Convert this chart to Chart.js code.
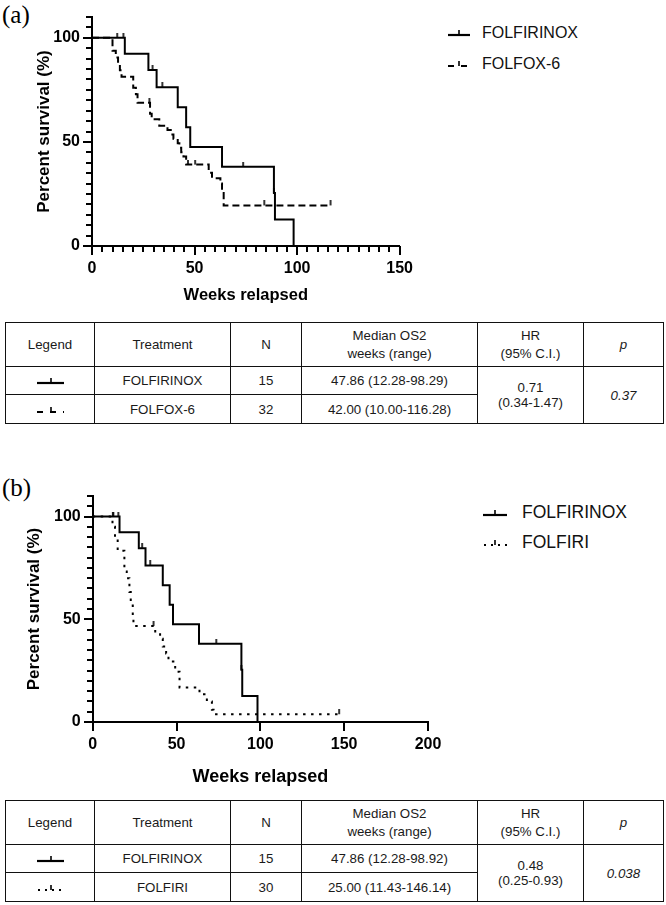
<!DOCTYPE html>
<html>
<head>
<meta charset="utf-8">
<script src="https://cdn.jsdelivr.net/npm/chart.js@4.4.1/dist/chart.umd.min.js"></script>
<style>
  body { margin: 0; width: 666px; height: 905px; position: relative; background: #fff; overflow: hidden;
         font-family: "Liberation Sans", Arial, sans-serif; }
  canvas { position: absolute; }
  .panel { position: absolute; font-family: "Liberation Serif", "Times New Roman", serif; font-size: 25px; line-height: 25px; color: #000; }
  .legend { position: absolute; color: #111; }
  .legend div { display: flex; align-items: center; }
  table { position: absolute; border-collapse: collapse; table-layout: fixed; font-size: 13.3px; color: #1a1a1a; text-align: center; }
  td { border: 1.5px solid #111; padding: 0; }
  td.hd { line-height: 18px; }
  td.mg { line-height: 15px; }
  td.it { font-style: italic; }
</style>
</head>
<body>
<div class="panel" style="left:2px;top:2px">(a)</div>
<div class="panel" style="left:2px;top:475px">(b)</div>

<canvas id="chartA" width="420" height="315" style="left:0;top:0"></canvas>
<canvas id="chartB" width="450" height="312" style="left:0;top:480px"></canvas>

<div class="legend" id="legendA" style="left:448px;top:17px;font-size:16px"></div>
<div class="legend" id="legendB" style="left:483px;top:497px;font-size:17.5px"></div>

<table id="tableA" style="left:5px;top:322px;width:658px"></table>
<table id="tableB" style="left:5px;top:800px;width:658px"></table>

<script>
// FOLFIRINOX (same arm in both panels)
const folfirinoxWeeks = [0, 16, 27.5, 31.5, 41.8, 45.9, 47.9, 63.4, 88.7, 89.2, 98.3];
const folfirinoxSurv = [100, 92.3, 84.6, 76.2, 66.6, 57.1, 47.6, 38.1, 25.4, 12.7, 0];
const folfirinoxCensWeeks = [12.3, 15.3, 29.5, 34.3, 73.7, 88.7];
const folfirinoxCensSurv = [100, 100, 84.6, 76.2, 38.1, 25.4];

// FOLFOX-6 (panel a)
const folfox6Weeks = [0, 10.0, 11.6, 12.7, 13.6, 14.4, 20.1, 21.4, 22.2, 28.3, 29.1, 32.8, 36.8, 38.4, 39.7,
  41.8, 42.6, 43.5, 44.6, 45.9, 56.9, 58.5, 62.6, 63.4, 64.2, 116.3];
const folfox6Surv = [100, 93.8, 90.6, 87.5, 84.4, 81.3, 76.0, 72.9, 68.8, 63.5, 60.9, 57.8, 55.7, 53.6, 51.5,
  49.4, 47.2, 45.0, 43.0, 39.1, 35.2, 32.6, 30.0, 25.4, 19.5, 19.5];
const folfox6CensWeeks = [28.0, 46.8, 50.3, 84.0, 116.3];
const folfox6CensSurv = [68.8, 39.1, 39.1, 19.5, 19.5];

// FOLFIRI (panel b)
const folfiriWeeks = [0, 11.8, 13.3, 14.9, 18.9, 20.3, 21.9, 22.7, 23.9, 24.3, 37.3, 40.2, 41.8, 43.8, 45.2,
  49.2, 51.8, 63.7, 68.1, 71.1, 72.1, 147];
const folfiriSurv = [100, 95.0, 90.0, 83.3, 73.3, 70.0, 63.3, 56.7, 50.0, 46.7, 43.3, 40.5, 36.7, 33.3, 29.5,
  24.5, 16.8, 13.5, 10.0, 6.0, 3.8, 3.8];
const folfiriCensWeeks = [12.0, 36.3, 147];
const folfiriCensSurv = [100, 46.7, 3.8];

// table texts
const headers = ["Legend", "Treatment", "N", "Median OS2<br>weeks (range)", "HR<br>(95% C.I.)", "p"];
const colWidths = [89, 136, 71, 176, 106, 80];
const tableARows = [["solid", "FOLFIRINOX", "15", "47.86 (12.28-98.29)"], ["dash", "FOLFOX-6", "32", "42.00 (10.00-116.28)"]];
const tableAStats = ["0.71", "(0.34-1.47)", "0.37"];
const tableBRows = [["solid", "FOLFIRINOX", "15", "47.86 (12.28-98.92)"], ["dot", "FOLFIRI", "30", "25.00 (11.43-146.14)"]];
const tableBStats = ["0.48", "(0.25-0.93)", "0.038"];

const sans = "'Liberation Sans', Arial, sans-serif";

// censor mark: short vertical tick sitting on the curve
function censorMark(h) {
  const c = document.createElement("canvas");
  c.width = 4;
  c.height = h * 2;
  const g = c.getContext("2d");
  g.strokeStyle = "#000";
  g.lineWidth = 1.6;
  g.beginPath();
  g.moveTo(2, 0);
  g.lineTo(2, h);
  g.stroke();
  return c;
}
const tickMark = censorMark(5);

// prism-like axis ticks: long at labelled values, short otherwise
const axisTicks = {
  id: "axisTicks",
  afterDraw(chart) {
    const ctx = chart.ctx;
    const area = chart.chartArea;
    const xs = chart.scales.x;
    const ys = chart.scales.y;
    ctx.save();
    ctx.fillStyle = "#000";
    xs.ticks.forEach((t) => {
      const px = Math.round(xs.getPixelForValue(t.value));
      const len = t.value % 50 === 0 ? 9 : 6;
      ctx.fillRect(px - 1, Math.round(area.bottom), 2, len);
    });
    ys.ticks.forEach((t) => {
      const py = Math.round(ys.getPixelForValue(t.value));
      const len = t.value % 50 === 0 ? 9 : 6;
      ctx.fillRect(Math.round(area.left) - len, py - 1, len, 2);
    });
    ctx.restore();
  },
};

const toXY = (xs, ys) => xs.map((x, i) => ({ x: x, y: ys[i] }));

function curve(weeks, surv, dash) {
  return {
    data: toXY(weeks, surv),
    stepped: "before",
    borderColor: "#000",
    borderWidth: 2,
    borderDash: dash,
    pointRadius: 0,
    fill: false,
  };
}
function censored(weeks, surv) {
  return {
    data: toXY(weeks, surv),
    showLine: false,
    pointStyle: tickMark,
    pointRadius: 3,
  };
}

function kmChart(id, cfg) {
  return new Chart(document.getElementById(id), {
    type: "line",
    data: { datasets: cfg.datasets },
    plugins: [axisTicks],
    options: {
      responsive: false,
      animation: false,
      devicePixelRatio: 1,
      layout: { padding: cfg.padding },
      plugins: { legend: { display: false }, tooltip: { enabled: false } },
      scales: {
        x: {
          type: "linear",
          min: 0,
          max: cfg.xMax,
          border: { display: true, color: "#000", width: 2 },
          // built-in ticks only keep the label spacing, the plugin draws the marks
          grid: { drawOnChartArea: false, tickLength: 6, tickColor: "rgba(0,0,0,0)" },
          ticks: {
            stepSize: cfg.xStep,
            autoSkip: false,
            maxRotation: 0,
            padding: 7,
            color: "#000",
            font: { family: sans, weight: "bold", size: 16 },
            callback: (v) => (v % 50 === 0 ? v : ""),
          },
          title: {
            display: true,
            text: "Weeks relapsed",
            color: "#000",
            padding: 0,
            font: { family: sans, weight: "bold", size: cfg.xTitleSize },
          },
          afterFit: (s) => { s.height = cfg.xHeight; },
        },
        y: {
          min: 0,
          max: 110,
          border: { display: true, color: "#000", width: 2 },
          grid: { drawOnChartArea: false, tickLength: 6, tickColor: "rgba(0,0,0,0)" },
          ticks: {
            stepSize: 5,
            autoSkip: false,
            padding: 6,
            color: "#000",
            font: { family: sans, weight: "bold", size: 16 },
            callback: (v) => (v % 50 === 0 ? v : ""),
          },
          title: {
            display: true,
            text: "Percent survival (%)",
            color: "#000",
            padding: 0,
            font: { family: sans, weight: "bold", size: 17 },
          },
          afterFit: (s) => { s.width = cfg.yWidth; },
        },
      },
    },
  });
}

// Panel (a)
kmChart("chartA", {
  xMax: 150, xStep: 5, xTitleSize: 16.5,
  padding: { left: 34, top: 17, right: 20, bottom: 10 },
  yWidth: 58, xHeight: 59,
  datasets: [
    curve(folfirinoxWeeks, folfirinoxSurv, []),
    censored(folfirinoxCensWeeks, folfirinoxCensSurv),
    curve(folfox6Weeks, folfox6Surv, [7, 4]),
    censored(folfox6CensWeeks, folfox6CensSurv),
  ],
});

// Panel (b)
kmChart("chartB", {
  xMax: 200, xStep: 50, xTitleSize: 18,
  padding: { left: 24, top: 16, right: 22, bottom: 4 },
  yWidth: 68.7, xHeight: 66,
  datasets: [
    curve(folfirinoxWeeks, folfirinoxSurv, []),
    censored(folfirinoxCensWeeks, folfirinoxCensSurv),
    curve(folfiriWeeks, folfiriSurv, [2.5, 5.5]),
    censored(folfiriCensWeeks, folfiriCensSurv),
  ],
});

// line samples for legends and tables
function sample(kind, w) {
  const t = Math.round(w / 2);
  let body = "";
  if (kind === "solid") {
    body = `<line x1="0" y1="8" x2="${w}" y2="8" stroke="#000" stroke-width="2.2"/>`;
  } else if (kind === "dash") {
    body = `<line x1="0" y1="8" x2="${w}" y2="8" stroke="#000" stroke-width="2.2" stroke-dasharray="6,7"/>`;
  } else {
    body = `<line x1="1" y1="8" x2="${w}" y2="8" stroke="#000" stroke-width="2" stroke-dasharray="2,5"/>`;
  }
  body += `<line x1="${t}" y1="3" x2="${t}" y2="8" stroke="#000" stroke-width="1.6"/>`;
  return `<svg width="${w}" height="11" style="display:block">${body}</svg>`;
}

function legend(id, items, w, gap, rowH) {
  document.getElementById(id).innerHTML = items
    .map(([kind, label]) => `<div style="height:${rowH}px">${sample(kind, w)}<span style="margin-left:${gap}px">${label}</span></div>`)
    .join("");
}
legend("legendA", [["solid", "FOLFIRINOX"], ["dash", "FOLFOX-6"]], 22, 12, 31);
legend("legendB", [["solid", "FOLFIRINOX"], ["dot", "FOLFIRI"]], 24, 15, 30);

function buildTable(id, rows, stats) {
  let html = "<colgroup>" + colWidths.map((w) => `<col style="width:${w}px">`).join("") + "</colgroup>";
  html += `<tr style="height:44px">` + headers.map((h, i) => `<td class="hd${i === 5 ? " it" : ""}">${h}</td>`).join("") + "</tr>";
  rows.forEach((r, i) => {
    html += `<tr style="height:${i === 0 ? 28 : 29}px">`;
    html += `<td><div style="display:flex;justify-content:center">${sample(r[0], 27)}</div></td>`;
    html += `<td>${r[1]}</td><td>${r[2]}</td><td>${r[3]}</td>`;
    if (i === 0) {
      html += `<td rowspan="2" class="mg">${stats[0]}<br>${stats[1]}</td><td rowspan="2" class="it">${stats[2]}</td>`;
    }
    html += "</tr>";
  });
  document.getElementById(id).innerHTML = html;
}
buildTable("tableA", tableARows, tableAStats);
buildTable("tableB", tableBRows, tableBStats);
</script>
</body>
</html>
